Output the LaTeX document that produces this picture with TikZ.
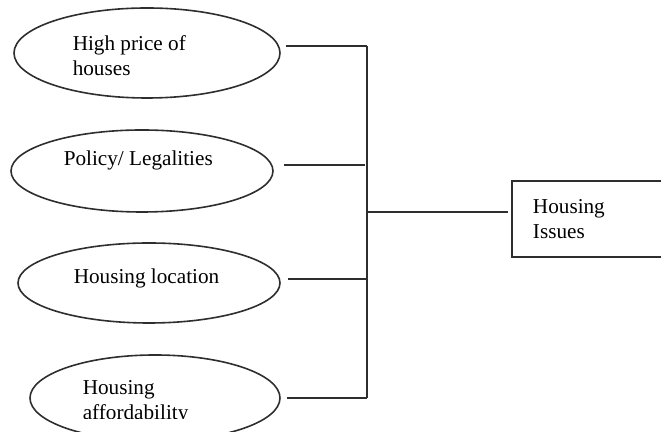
\documentclass[tikz,border=0pt]{standalone}
\usepackage{fontspec}
\setmainfont{Liberation Serif}
\usetikzlibrary{shapes.geometric}
\definecolor{netve}{gray}{0.18}

\begin{document}
\begin{tikzpicture}[x=0.5pt,y=-0.5pt,netve,line width=0.8pt,
	tron/.style={draw,ellipse,inner sep=0pt},
	chu/.style={inner sep=0pt,anchor=north west,align=left,text=black,font=\fontsize{10.6pt}{12.2pt}\selectfont},
	hop/.style={draw,rectangle,minimum width=85pt,minimum height=38pt,align=left,text width=64pt,text=black,font=\fontsize{10.6pt}{12.5pt}\selectfont}]
			\useasboundingbox (0,0) rectangle (661,432);
			\node[tron,minimum width=133pt,minimum height=45pt] (e1) at (147,53) {};
			\node[tron,minimum width=131pt,minimum height=41pt] (e2) at (142,171) {};
			\node[tron,minimum width=131pt,minimum height=40pt] (e3) at (149,283) {};
			\node[tron,minimum width=125pt,minimum height=43pt] (e4) at (155,398) {};
			\node[chu] (t1) at (72,35) {High price of\\houses};
			\node[chu] (t2) at (63,150) {Policy/ Legalities};
			\node[chu] (t3) at (73,268) {Housing location};
			\begin{scope}
				\clip (0,0) rectangle (661,419);
				\node[chu] (t4) at (82,380) {Housing\\affordability};
			\end{scope}
			\node[hop] (b) at (597,219) {Housing\\Issues};
			\coordinate (j1) at (367,46);
			\coordinate (j2) at (367,165);
			\coordinate (jm) at (367,212);
			\coordinate (j3) at (367,279);
			\coordinate (j4) at (367,398);
			\draw[shorten <=2.5pt] (e1.east |- j1) -- (j1);
			\draw[shorten <=5pt,shorten >=1pt] (e2.east |- j2) -- (j2);
			\draw[shorten <=3.5pt] (e3.east |- j3) -- (j3);
			\draw[shorten <=3pt] (e4.east |- j4) -- (j4);
			\draw (j1) -- (j4);
			\draw[shorten >=1.5pt] (jm) -- (b.west |- jm);
		\end{tikzpicture}
\end{document}
